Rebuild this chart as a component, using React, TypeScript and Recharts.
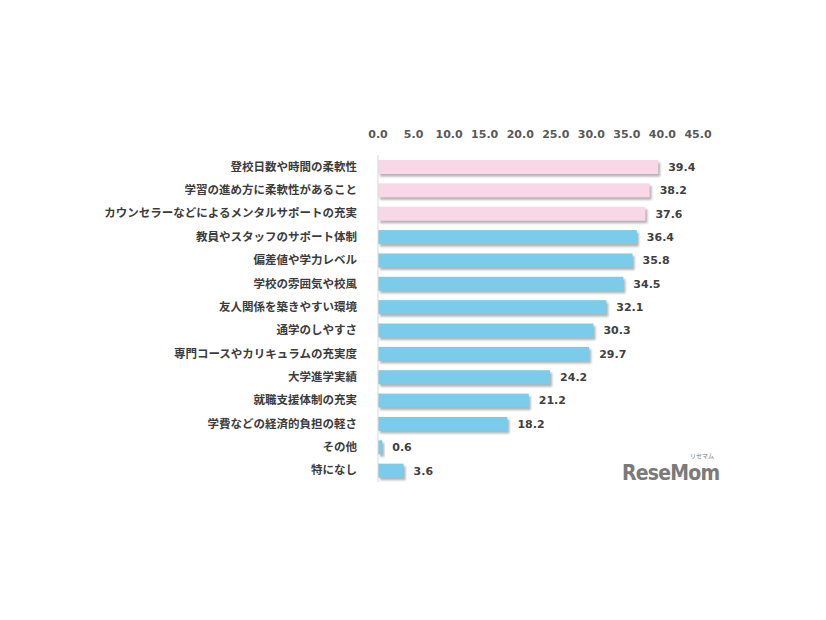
import { BarChart, Bar, XAxis, YAxis, Cell, LabelList } from "recharts";

const categories = [
  "登校日数や時間の柔軟性",
  "学習の進め方に柔軟性があること",
  "カウンセラーなどによるメンタルサポートの充実",
  "教員やスタッフのサポート体制",
  "偏差値や学力レベル",
  "学校の雰囲気や校風",
  "友人関係を築きやすい環境",
  "通学のしやすさ",
  "専門コースやカリキュラムの充実度",
  "大学進学実績",
  "就職支援体制の充実",
  "学費などの経済的負担の軽さ",
  "その他",
  "特になし",
];

const values = [39.4, 38.2, 37.6, 36.4, 35.8, 34.5, 32.1, 30.3, 29.7, 24.2, 21.2, 18.2, 0.6, 3.6];

// first three items are highlighted in pink
const highlighted = [true, true, true, false, false, false, false, false, false, false, false, false, false, false];

const xTicks = [0, 5, 10, 15, 20, 25, 30, 35, 40, 45];

const data = categories.map((name, i) => ({ name, value: values[i], hl: highlighted[i] }));

const PINK = "#f8d7e7";
const BLUE = "#7accea";

function ShadowBar(props: any) {
  const { x, y, width, height, fill } = props;
  if (width <= 0) return null;
  return (
    <g>
      <rect x={x + 2} y={y + 2.5} width={width} height={height} fill="#808080" opacity={0.6} filter="url(#barShadow)" />
      <rect x={x} y={y} width={width} height={height} fill={fill} />
    </g>
  );
}

export default function App() {
  return (
    <div style={{ position: "absolute", left: 0, top: 0, width: 826, height: 620, background: "#fff" }}>
      <BarChart
        width={826}
        height={620}
        data={data}
        layout="vertical"
        margin={{ top: 125, right: 128, bottom: 138, left: 0 }}
        barCategoryGap={0}
      >
        <defs>
          <filter id="barShadow" x="-10%" y="-50%" width="120%" height="200%">
            <feGaussianBlur stdDeviation="1.2" />
          </filter>
        </defs>
        <XAxis
          type="number"
          orientation="top"
          domain={[0, 45]}
          ticks={xTicks}
          tickFormatter={(v: number) => v.toFixed(1)}
          axisLine={false}
          tickLine={false}
          tickMargin={11}
          height={30}
          tick={{ fontSize: 11, fontWeight: "bold", fill: "#595959", fontFamily: "DejaVu Sans" }}
        />
        <YAxis
          type="category"
          dataKey="name"
          width={378}
          axisLine={{ stroke: "#d9d9d9" }}
          tickLine={false}
          tickMargin={15}
          interval={0}
          tick={{ fontSize: 11.5, fontWeight: "bold", fill: "#3c3c3c", fontFamily: "Noto Sans CJK JP" }}
        />
        <Bar dataKey="value" barSize={14} shape={<ShadowBar />} isAnimationActive={false}>
          {data.map((d, i) => (
            <Cell key={i} fill={d.hl ? PINK : BLUE} />
          ))}
          <LabelList
            dataKey="value"
            position="right"
            offset={10}
            formatter={(v: any) => Number(v).toFixed(1)}
            style={{ fontSize: 11, fontWeight: "bold", fill: "#404040", fontFamily: "DejaVu Sans" }}
          />
        </Bar>
      </BarChart>
      <div
        style={{
          position: "absolute",
          left: 622,
          top: 462,
          lineHeight: "22px",
          fontFamily: "DejaVu Sans Condensed, DejaVu Sans",
          fontWeight: "bold",
          fontSize: 21,
          letterSpacing: -0.8,
          color: "#7a7a7a",
        }}
      >
        ReseMom
      </div>
      <div
        style={{
          position: "absolute",
          left: 690,
          top: 452,
          lineHeight: "8px",
          fontFamily: "Noto Sans CJK JP",
          fontSize: 6,
          color: "#7a7a7a",
        }}
      >
        リセマム
      </div>
    </div>
  );
}
